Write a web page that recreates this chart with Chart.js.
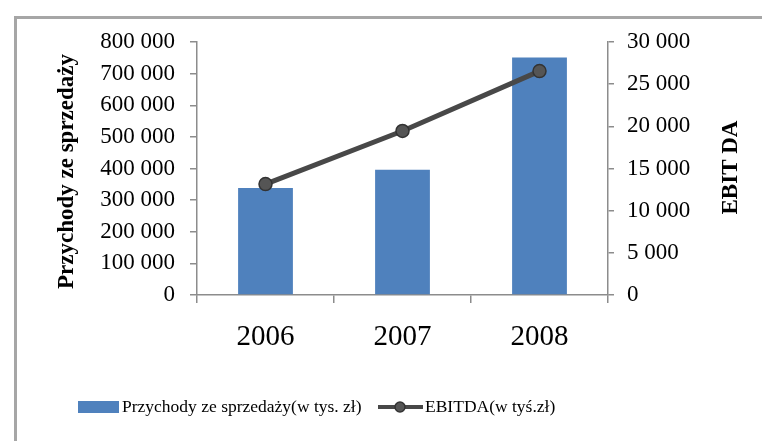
<!DOCTYPE html>
<html>
<head>
<meta charset="utf-8">
<script src="https://cdn.jsdelivr.net/npm/chart.js@4/dist/chart.umd.min.js"></script>
<style>
  html, body { margin: 0; padding: 0; background: #fff; overflow: hidden; }
  #wrap { position: relative; width: 762px; height: 441px; }
  #frame { position: absolute; left: 14px; top: 16px; width: 800px; height: 500px;
           border: 3px solid #a6a6a6; box-sizing: border-box; }
  canvas { position: absolute; left: 0; top: 0; }
</style>
</head>
<body>
<div id="wrap">
  <div id="frame"></div>
  <canvas id="chart" width="762" height="441"></canvas>
</div>
<script>
// data
var YEARS = ['2006', '2007', '2008'];
var SALES = [338000, 396000, 751000];   // w tys. zł
var EBITDA = [13150, 19450, 26550];     // w tys. zł

var SALES_LABEL = 'Przychody ze sprzedaży(w tys. zł)';
var EBITDA_LABEL = 'EBITDA(w tyś.zł)';
var LEFT_TITLE = 'Przychody ze sprzedaży';
var RIGHT_TITLE = 'EBIT DA';

var BLUE = '#4f81bd';
var DARK = '#484848';
var AXIS = '#8c8c8c';
var SERIF = '"Liberation Serif", "Times New Roman", serif';

function spaced(v) {
  return String(v).replace(/\B(?=(\d{3})+(?!\d))/g, ' ');
}

// axis titles and legend drawn by hand so they sit like in the original
var extras = {
  id: 'extras',
  afterDraw: function (chart) {
    var ctx = chart.ctx;
    var area = chart.chartArea;
    var mid = (area.top + area.bottom) / 2;

    ctx.save();
    ctx.fillStyle = '#000';
    ctx.font = 'bold 23px ' + SERIF;
    ctx.textAlign = 'center';
    ctx.textBaseline = 'middle';

    ctx.save();
    ctx.translate(67, mid + 3);
    ctx.rotate(-Math.PI / 2);
    ctx.fillText(LEFT_TITLE, 0, 0);
    ctx.restore();

    ctx.save();
    ctx.translate(731, mid - 1);
    ctx.rotate(-Math.PI / 2);
    ctx.fillText(RIGHT_TITLE, 0, 0);
    ctx.restore();

    // legend
    var ly = 407;
    ctx.font = '17.5px ' + SERIF;
    ctx.textAlign = 'left';
    ctx.fillStyle = BLUE;
    ctx.fillRect(78, ly - 6, 41, 12);
    ctx.fillStyle = '#000';
    ctx.fillText(SALES_LABEL, 122, ly);

    ctx.strokeStyle = DARK;
    ctx.lineWidth = 4;
    ctx.beginPath();
    ctx.moveTo(378, ly);
    ctx.lineTo(423, ly);
    ctx.stroke();
    ctx.beginPath();
    ctx.arc(400, ly, 5, 0, Math.PI * 2);
    ctx.fillStyle = '#555';
    ctx.fill();
    ctx.lineWidth = 1.5;
    ctx.strokeStyle = '#333';
    ctx.stroke();
    ctx.fillStyle = '#000';
    ctx.fillText(EBITDA_LABEL, 425, ly);
    ctx.restore();
  }
};

new Chart(document.getElementById('chart'), {
  data: {
    labels: YEARS,
    datasets: [
      {
        type: 'line',
        label: EBITDA_LABEL,
        data: EBITDA,
        yAxisID: 'y1',
        order: 0,
        borderColor: DARK,
        borderWidth: 5,
        pointRadius: 6.5,
        pointBackgroundColor: '#555',
        pointBorderColor: '#333',
        pointBorderWidth: 1.5,
        tension: 0
      },
      {
        type: 'bar',
        label: SALES_LABEL,
        data: SALES,
        yAxisID: 'y',
        order: 1,
        backgroundColor: BLUE,
        barPercentage: 0.4,
        categoryPercentage: 1
      }
    ]
  },
  options: {
    responsive: false,
    animation: false,
    layout: { padding: { top: 42, left: 0, right: 0, bottom: 0 } },
    plugins: { legend: { display: false }, tooltip: { enabled: false } },
    scales: {
      x: {
        grid: { display: true, drawOnChartArea: false, offset: true, tickLength: 8, color: AXIS, lineWidth: 1.5 },
        border: { color: AXIS, width: 1.5 },
        ticks: { color: '#000', padding: 17, font: { family: SERIF, size: 29 } },
        afterFit: function (s) { s.height = 146; }
      },
      y: {
        position: 'left',
        min: 0,
        max: 800000,
        grid: { drawOnChartArea: false, tickLength: 7, color: AXIS, lineWidth: 1.5 },
        border: { color: AXIS, width: 1.5 },
        ticks: { stepSize: 100000, color: '#000', padding: 15,
                 font: { family: SERIF, size: 23 }, callback: spaced },
        afterFit: function (s) { s.width = 197; }
      },
      y1: {
        position: 'right',
        min: 0,
        max: 30000,
        grid: { drawOnChartArea: false, tickLength: 6, color: AXIS, lineWidth: 1.5 },
        border: { color: AXIS, width: 1.5 },
        ticks: { stepSize: 5000, color: '#000', padding: 13,
                 font: { family: SERIF, size: 23 }, callback: spaced },
        afterFit: function (s) { s.width = 154; }
      }
    }
  },
  plugins: [extras]
});
</script>
</body>
</html>
